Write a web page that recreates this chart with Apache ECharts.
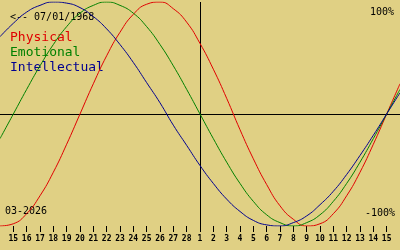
<!DOCTYPE html>
<html>
<head>
<meta charset="utf-8">
<script src="https://cdn.jsdelivr.net/npm/echarts@6/dist/echarts.min.js"></script>
<style>
html,body{margin:0;padding:0;background:#e0d084;}
#chart{width:400px;height:250px;}
</style>
</head>
<body>
<div id="chart"></div>
<script>
// Days: Feb 14 .. Mar 16, 2026 (first and last are off-edge padding days)
const categories = ['14','15','16','17','18','19','20','21','22','23','24','25','26','27','28',
  '1','2','3','4','5','6','7','8','9','10','11','12','13','14','15','16'];
const physical = [-1.00,-0.98,-0.89,-0.73,-0.52,-0.27,0.00,0.27,0.52,0.73,0.89,0.98,1.00,0.94,0.82,
  0.63,0.40,0.14,-0.14,-0.40,-0.63,-0.82,-0.94,-1.00,-0.98,-0.89,-0.73,-0.52,-0.27,0.00,0.27];
const emotional = [-0.22,0.00,0.22,0.43,0.62,0.78,0.90,0.97,1.00,0.97,0.90,0.78,0.62,0.43,0.22,
  0.00,-0.22,-0.43,-0.62,-0.78,-0.90,-0.97,-1.00,-0.97,-0.90,-0.78,-0.62,-0.43,-0.22,0.00,0.22];
const intellectual = [0.69,0.81,0.91,0.97,1.00,0.99,0.95,0.87,0.76,0.62,0.46,0.28,0.10,-0.10,-0.28,
  -0.46,-0.62,-0.76,-0.87,-0.95,-0.99,-1.00,-0.97,-0.91,-0.81,-0.69,-0.54,-0.37,-0.19,0.00,0.19];
const seriesNames = ['Physical','Emotional','Intellectual'];
const seriesColors = ['#e00000','#008000','#000090'];
const birthLabel = '<-- 07/01/1968';
const monthLabel = '03-2026';
const topLabel = '100%';
const bottomLabel = '-100%';
const todayCategory = '1';

const chart = echarts.init(document.getElementById('chart'), null, {renderer:'canvas'});
const lastIdx = categories.length - 1;
const mono = 'DejaVu Sans Mono';
const dataSets = [physical, emotional, intellectual];

const series = dataSets.map((d, i) => ({
  name: seriesNames[i],
  type: 'line',
  data: d,
  smooth: true,
  showSymbol: false,
  symbol: 'none',
  lineStyle: {color: seriesColors[i], width: 1},
  itemStyle: {color: seriesColors[i]},
  z: 3
}));
series[0].markLine = {
  silent: true,
  symbol: 'none',
  label: {show: false},
  lineStyle: {color: '#000', width: 1, type: 'solid'},
  data: [{yAxis: 0}, {xAxis: categories.indexOf(todayCategory)}],
  z: 1
};

chart.setOption({
  animation: false,
  backgroundColor: '#e0d084',
  grid: {left: 0, right: 0, top: 2, height: 224},
  xAxis: {
    type: 'category',
    data: categories,
    boundaryGap: false,
    axisLine: {show: false, onZero: false},
    axisTick: {
      show: true, length: 6, lineStyle: {color: '#000', width: 1},
      interval: (idx) => idx > 0 && idx < lastIdx
    },
    axisLabel: {
      show: true, margin: 9, color: '#000',
      fontFamily: mono, fontSize: 8, fontWeight: 'bold',
      interval: (idx) => idx > 0 && idx < lastIdx
    },
    splitLine: {show: false}
  },
  yAxis: {
    type: 'value', min: -1, max: 1,
    show: false, splitLine: {show: false}
  },
  series: series,
  graphic: [
    {type: 'text', left: 10, top: 12.5, style: {text: birthLabel, font: '10px ' + mono, fill: '#000'}},
    {type: 'text', left: 10, top: 31, style: {text: seriesNames[0], font: '13px ' + mono, fill: seriesColors[0]}},
    {type: 'text', left: 10, top: 46, style: {text: seriesNames[1], font: '13px ' + mono, fill: seriesColors[1]}},
    {type: 'text', left: 10, top: 61.5, style: {text: seriesNames[2], font: '13px ' + mono, fill: seriesColors[2]}},
    {type: 'text', right: 6, top: 7, style: {text: topLabel, font: '10px ' + mono, fill: '#000'}},
    {type: 'text', right: 5, top: 208.5, style: {text: bottomLabel, font: '10px ' + mono, fill: '#000'}},
    {type: 'text', left: 5, top: 206.5, style: {text: monthLabel, font: '10px ' + mono, fill: '#000'}}
  ]
});
</script>
</body>
</html>
